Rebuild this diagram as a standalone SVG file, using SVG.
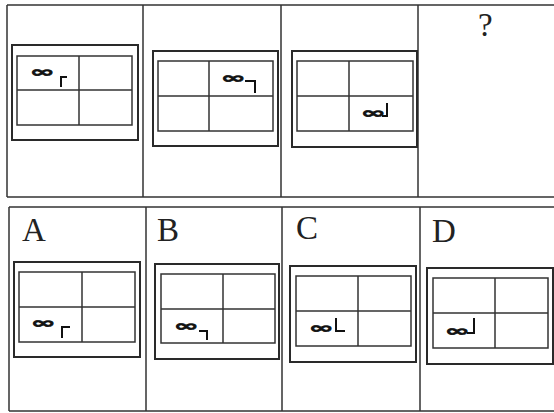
<svg xmlns="http://www.w3.org/2000/svg" width="554" height="413" viewBox="0 0 554 413">
<style>
.frame{fill:none;stroke:#333;stroke-width:1.5}
.box{fill:none;stroke:#2a2a2a;stroke-width:2}
.grid{fill:none;stroke:#333;stroke-width:1.5}
.lbl{font-family:"Liberation Serif",serif;font-size:33px;fill:#222}
.inf{font-family:"DejaVu Sans",sans-serif;font-size:30px;font-weight:bold;fill:#111;stroke:#111;stroke-width:1.2}
.mk{fill:none;stroke:#111;stroke-width:2}
</style>
<rect width="554" height="413" fill="#fff"/>
<g id="frames">
<path class="frame" d="M7,5 H555 M7,197 H555 M7,5 V197 M143,5 V197 M281,5 V197 M418,5 V197"/>
<path class="frame" d="M9,207 H555 M9,411 H555 M9,207 V411 M146,207 V411 M282,207 V411 M420,207 V411"/>
</g>
<g id="q1">
<rect class="box" x="12" y="45" width="126" height="95"/>
<rect class="grid" x="17" y="56" width="115" height="69"/>
<path class="grid" d="M79,56 V125 M17,90 H132"/>
<text class="inf" transform="translate(30,72) scale(1,0.5)" y="10">∞</text>
<path class="mk" d="M67,77 H61 V87"/>
</g>
<g id="q2">
<rect class="box" x="153" y="51" width="125" height="95"/>
<rect class="grid" x="158" y="61" width="115" height="70"/>
<path class="grid" d="M209,61 V131 M158,96 H273"/>
<text class="inf" transform="translate(221,78) scale(1,0.5)" y="10">∞</text>
<path class="mk" d="M245,81 H255 V93"/>
</g>
<g id="q3">
<rect class="box" x="292" y="51" width="125" height="96"/>
<rect class="grid" x="297" y="61" width="116" height="70"/>
<path class="grid" d="M349,61 V131 M297,96 H413"/>
<text class="inf" transform="translate(361,113) scale(1,0.5)" y="10">∞</text>
<path class="mk" d="M387,103 V116 H382"/>
</g>
<g id="q4">
<text class="lbl" x="478" y="36">?</text>
</g>
<g id="optA">
<text class="lbl" x="22" y="241">A</text>
<rect class="box" x="14" y="262" width="126" height="95"/>
<rect class="grid" x="19" y="272" width="116" height="70"/>
<path class="grid" d="M82,272 V342 M19,307 H135"/>
<text class="inf" transform="translate(31,323) scale(1,0.5)" y="10">∞</text>
<path class="mk" d="M70,327 H62 V338"/>
</g>
<g id="optB">
<text class="lbl" x="157" y="241">B</text>
<rect class="box" x="155" y="264" width="124" height="95"/>
<rect class="grid" x="161" y="274" width="114" height="69"/>
<path class="grid" d="M223,274 V343 M161,309 H275"/>
<text class="inf" transform="translate(174,325.5) scale(1,0.5)" y="10">∞</text>
<path class="mk" d="M199,331 H207 V340"/>
</g>
<g id="optC">
<text class="lbl" x="296" y="239">C</text>
<rect class="box" x="290" y="266" width="126" height="96"/>
<rect class="grid" x="296" y="276" width="115" height="70"/>
<path class="grid" d="M358,276 V346 M296,311 H411"/>
<text class="inf" transform="translate(309,328) scale(1,0.5)" y="10">∞</text>
<path class="mk" d="M336,318 V331 H345"/>
</g>
<g id="optD">
<text class="lbl" x="432" y="242">D</text>
<rect class="box" x="427" y="268" width="126" height="96"/>
<rect class="grid" x="433" y="278" width="115" height="70"/>
<path class="grid" d="M495,278 V348 M433,313 H548"/>
<text class="inf" transform="translate(445,330.5) scale(1,0.5)" y="10">∞</text>
<path class="mk" d="M474,318 V333 H467"/>
</g>
</svg>
